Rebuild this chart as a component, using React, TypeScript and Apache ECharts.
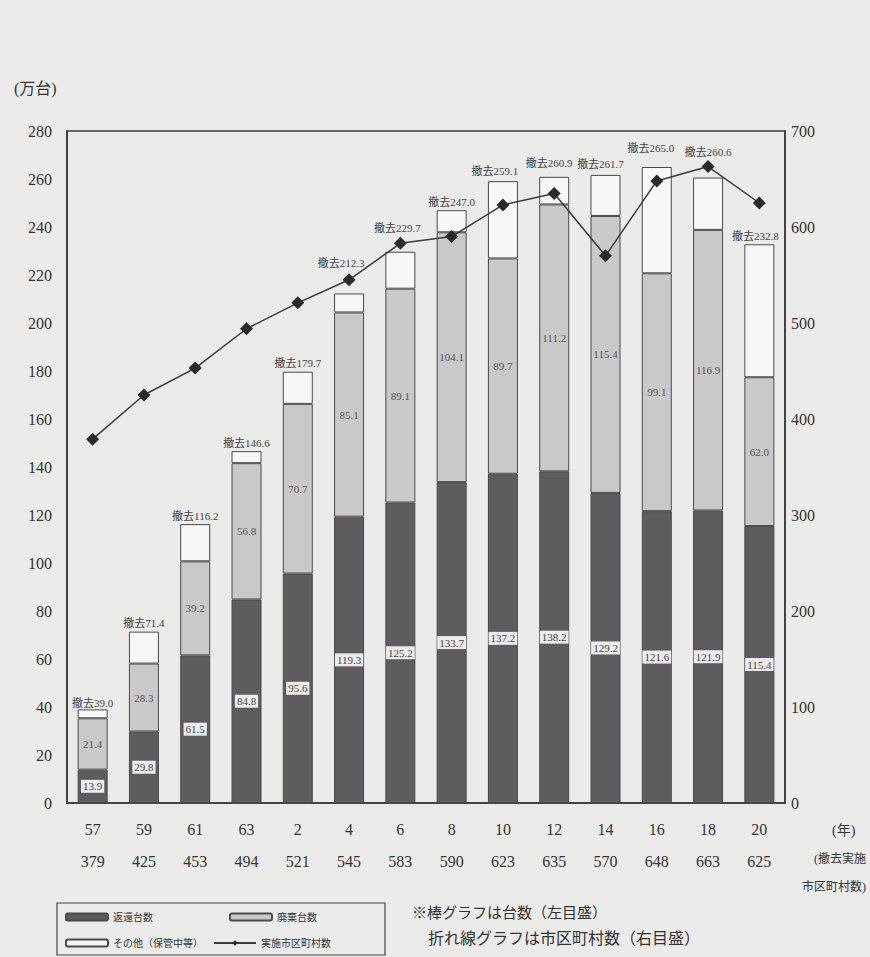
import React, { useEffect, useRef } from "react";
import * as echarts from "echarts";

const years = ["57", "59", "61", "63", "2", "4", "6", "8", "10", "12", "14", "16", "18", "20"];
const municipalities = [379, 425, 453, 494, 521, 545, 583, 590, 623, 635, 570, 648, 663, 625];
const totals = [39.0, 71.4, 116.2, 146.6, 179.7, 212.3, 229.7, 247.0, 259.1, 260.9, 261.7, 265.0, 260.6, 232.8];
const returned = [13.9, 29.8, 61.5, 84.8, 95.6, 119.3, 125.2, 133.7, 137.2, 138.2, 129.2, 121.6, 121.9, 115.4];
const disposed = [21.4, 28.3, 39.2, 56.8, 70.7, 85.1, 89.1, 104.1, 89.7, 111.2, 115.4, 99.1, 116.9, 62.0];
const others = totals.map((t, i) => +(t - returned[i] - disposed[i]).toFixed(1));
// offsets of the "撤去" total labels, as placed in the source to avoid the line
const totalLabelOffsets: [number, number][] = [
  [0, 2], [0, 0], [0, 0], [0, 0], [0, 0], [-8, -22], [-3, -15], [0, 0],
  [-8, -2], [-5, -5], [-5, -2], [-6, -11], [0, -17], [-4, 0],
];

const FONT = "'Liberation Serif', 'Noto Sans CJK JP', serif";

export default function App() {
  const ref = useRef<HTMLDivElement>(null);
  useEffect(() => {
    if (!ref.current) return;
    const chart = echarts.init(ref.current, null, { renderer: "svg" });
    const border = "#4a4a4a";
    chart.setOption({
      animation: false,
      backgroundColor: "#ebebe9",
      textStyle: { fontFamily: FONT },
      grid: {
        left: 67,
        right: 85,
        top: 131,
        bottom: 154,
        show: true,
        borderColor: "#3a3a3a",
        borderWidth: 1.5,
        backgroundColor: "transparent",
      },
      legend: [
        {
          data: ["返還台数", "廃棄台数"],
          left: 60,
          top: 907,
          itemWidth: 42,
          itemHeight: 7,
          itemGap: 76,
          textStyle: { fontSize: 10, color: "#333", fontFamily: FONT },
        },
        {
          data: ["その他（保管中等）", "実施市区町村数"],
          left: 60,
          top: 933,
          itemWidth: 42,
          itemHeight: 7,
          itemGap: 10,
          textStyle: { fontSize: 10, color: "#333", fontFamily: FONT },
        },
      ],
      xAxis: {
        type: "category",
        data: years,
        axisLine: { show: true, lineStyle: { color: "#3a3a3a", width: 1.5 } },
        axisTick: { show: false },
        axisLabel: {
          margin: 10,
          interval: 0,
          formatter: (v: string, i: number) => `{y|${years[i]}}\n{m|${municipalities[i]}}`,
          rich: {
            y: { fontSize: 16, lineHeight: 32, color: "#333", fontFamily: FONT },
            m: { fontSize: 16, lineHeight: 32, color: "#333", fontFamily: FONT },
          },
        },
      },
      yAxis: [
        {
          type: "value",
          min: 0,
          max: 280,
          interval: 20,
          axisLine: { show: true, lineStyle: { color: "#3a3a3a", width: 1.5 } },
          axisTick: { show: false },
          splitLine: { show: false },
          axisLabel: { margin: 15, fontSize: 16, color: "#333", fontFamily: FONT },
        },
        {
          type: "value",
          min: 0,
          max: 700,
          interval: 100,
          position: "right",
          axisLine: { show: true, lineStyle: { color: "#3a3a3a", width: 1.5 } },
          axisTick: { show: false },
          splitLine: { show: false },
          axisLabel: { margin: 6, fontSize: 16, color: "#333", fontFamily: FONT },
        },
      ],
      series: [
        {
          name: "返還台数",
          type: "bar",
          stack: "a",
          barWidth: 30,
          data: returned,
          itemStyle: { color: "#5e5c5e", borderColor: border, borderWidth: 1 },
          label: {
            show: true,
            position: "inside",
            fontSize: 11,
            color: "#444",
            backgroundColor: "rgba(248,248,248,0.92)",
            padding: [1, 2],
            fontFamily: FONT,
            formatter: (p: any) => returned[p.dataIndex].toFixed(1),
          },
        },
        {
          name: "廃棄台数",
          type: "bar",
          stack: "a",
          data: disposed,
          itemStyle: { color: "#c9c9c9", borderColor: border, borderWidth: 1 },
          label: {
            show: true,
            position: "inside",
            fontSize: 11,
            color: "#555",
            fontFamily: FONT,
            formatter: (p: any) => disposed[p.dataIndex].toFixed(1),
          },
        },
        {
          name: "その他（保管中等）",
          type: "bar",
          stack: "a",
          data: others.map((v, i) => ({
            value: v,
            label: { offset: totalLabelOffsets[i] },
          })),
          itemStyle: { color: "#f7f7f7", borderColor: border, borderWidth: 1 },
          label: {
            show: true,
            position: "top",
            distance: 3,
            fontSize: 11,
            color: "#444",
            fontFamily: FONT,
            formatter: (p: any) => "撤去" + totals[p.dataIndex].toFixed(1),
          },
        },
        {
          name: "実施市区町村数",
          type: "line",
          yAxisIndex: 1,
          data: municipalities,
          symbol: "diamond",
          symbolSize: 13,
          z: 5,
          lineStyle: { color: "#3a3a3a", width: 1.5 },
          itemStyle: { color: "#2a2a2a" },
        },
      ],
      graphic: [
        { type: "text", left: 14, top: 80, style: { text: "(万台)", fontSize: 16, fill: "#333", fontFamily: FONT } },
        { type: "text", left: 832, top: 823, style: { text: "(年)", fontSize: 14, fill: "#333", fontFamily: FONT } },
        { type: "text", left: 814, top: 853, style: { text: "(撤去実施", fontSize: 12, fill: "#333", fontFamily: FONT } },
        { type: "text", left: 802, top: 881, style: { text: "市区町村数)", fontSize: 12, fill: "#333", fontFamily: FONT } },
        {
          type: "rect",
          shape: { x: 57, y: 903, width: 328, height: 52 },
          style: { fill: "none", stroke: "#444", lineWidth: 1.2 },
          silent: true,
        },
        { type: "text", left: 412, top: 905, style: { text: "※棒グラフは台数（左目盛）", fontSize: 15, fill: "#333", fontFamily: FONT } },
        { type: "text", left: 428, top: 930, style: { text: "折れ線グラフは市区町村数（右目盛）", fontSize: 16, fill: "#333", fontFamily: FONT } },
      ],
    });
    return () => chart.dispose();
  }, []);
  return (
    <div
      ref={ref}
      style={{ position: "fixed", left: 0, top: 0, width: 870, height: 957 }}
    />
  );
}
